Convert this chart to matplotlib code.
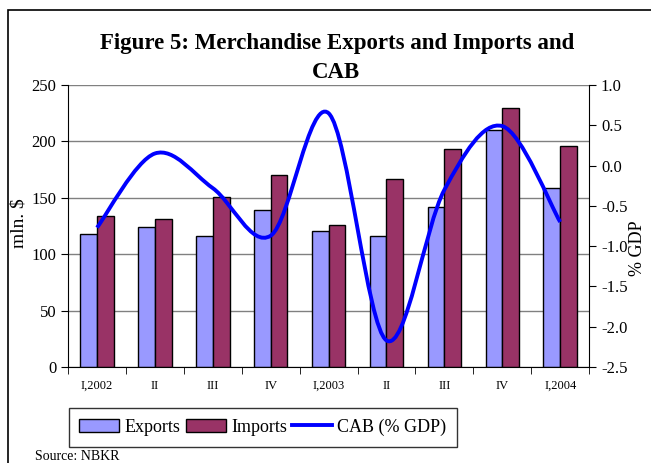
import numpy as np
import matplotlib.pyplot as plt
from matplotlib.path import Path
from matplotlib.patches import PathPatch, Rectangle
from matplotlib.lines import Line2D
from matplotlib.patches import Patch

plt.rcParams["font.family"] = ["Liberation Serif", "DejaVu Serif"]

# ── Data ───────────────────────────────────────────────────────────────────────
quarters = ["I,2002", "II", "III", "IV", "I,2003", "II", "III", "IV", "I,2004"]
exports = [118, 124, 116, 139, 121, 116, 142, 210, 159]
imports = [134, 131, 151, 170, 126, 167, 193, 230, 196]
cab = [-0.77, 0.15, -0.28, -0.87, 0.65, -2.17, -0.30, 0.49, -0.70]


def smooth_path(xs, ys):
    # Catmull-Rom style bezier, like Excel's "smoothed line"
    xs = np.asarray(xs, float); ys = np.asarray(ys, float)
    n = len(xs)
    verts = [(xs[0], ys[0])]
    codes = [Path.MOVETO]
    for i in range(n - 1):
        x0, y0 = (xs[i - 1], ys[i - 1]) if i > 0 else (xs[i], ys[i])
        x3, y3 = (xs[i + 2], ys[i + 2]) if i + 2 < n else (xs[i + 1], ys[i + 1])
        x1, y1 = xs[i], ys[i]
        x2, y2 = xs[i + 1], ys[i + 1]
        c1 = (x1 + (x2 - x0) / 6, y1 + (y2 - y0) / 6)
        c2 = (x2 - (x3 - x1) / 6, y2 - (y3 - y1) / 6)
        verts += [c1, c2, (x2, y2)]
        codes += [Path.CURVE4] * 3
    return Path(verts, codes)


fig = plt.figure(figsize=(6.51, 4.63), dpi=100)
fig.patches.append(Rectangle((8 / 651, -0.1), 1.2, 1 - 10 / 463 + 0.1,
                             transform=fig.transFigure, fill=False,
                             edgecolor="black", linewidth=1.2))

ax = fig.add_axes([0.1045, 0.2073, 0.8005, 0.6091])
x = np.arange(len(quarters))
w = 0.29
ax.bar(x - w / 2, exports, w, color="#9999FF", edgecolor="black", linewidth=1, zorder=2)
ax.bar(x + w / 2, imports, w, color="#993366", edgecolor="black", linewidth=1, zorder=2)
ax.set_xlim(-0.5, len(quarters) - 0.5)
ax.set_ylim(0, 250)
ax.set_yticks(range(0, 251, 50))
ax.yaxis.grid(True, color="#808080", linewidth=1)
ax.set_axisbelow(True)
ax.set_xticks(x)
ax.set_xticklabels(quarters, fontsize=9)
ax.set_xticks(np.arange(-0.5, len(quarters), 1), minor=True)
ax.tick_params(axis="x", which="major", length=0, pad=9)
ax.tick_params(axis="x", which="minor", length=5, direction="out")
ax.tick_params(axis="y", labelsize=12, length=5, direction="out")
for s in ["top", "right"]:
    ax.spines[s].set_visible(False)
ax.set_ylabel("mln. $", fontsize=14)
ax.yaxis.set_label_coords(-0.078, 0.51)

ax2 = ax.twinx()
ax2.set_ylim(-2.5, 1.0)
ax2.set_yticks(np.arange(-2.5, 1.01, 0.5))
ax2.set_yticklabels([f"{v:.1f}" for v in np.arange(-2.5, 1.01, 0.5)])
ax2.tick_params(axis="y", labelsize=12, length=5, direction="out")
for s in ["top", "left", "bottom"]:
    ax2.spines[s].set_visible(False)
ax2.add_patch(PathPatch(smooth_path(x, cab), facecolor="none",
                        edgecolor="#0000FF", linewidth=2.8, zorder=3))
ax2.set_ylabel("% GDP", fontsize=13, rotation=90)
ax2.yaxis.set_label_coords(1.077, 0.42)

fig.text(0.518, 0.907, "Figure 5: Merchandise Exports and Imports and",
         ha="center", va="center", fontsize=16.5, fontweight="bold")
fig.text(0.516, 0.843, "CAB", ha="center", va="center", fontsize=16.5,
         fontweight="bold")

handles = [Patch(facecolor="#9999FF", edgecolor="black", label="Exports"),
           Patch(facecolor="#993366", edgecolor="black", label="Imports"),
           Line2D([], [], color="#0000FF", linewidth=2.8, label="CAB (% GDP)")]
leg = fig.legend(handles=handles, loc="center", bbox_to_anchor=(0.404, 0.077),
                 ncol=3, fontsize=13, frameon=True, fancybox=False,
                 edgecolor="black", handlelength=2.2, handleheight=0.75,
                 handletextpad=0.3, columnspacing=0.3, borderpad=0.6)
leg.get_frame().set_linewidth(1)

fig.text(35 / 651, 1 - 457 / 463, "Source: NBKR", fontsize=10, va="center")

fig.savefig("out.png", dpi=100)
